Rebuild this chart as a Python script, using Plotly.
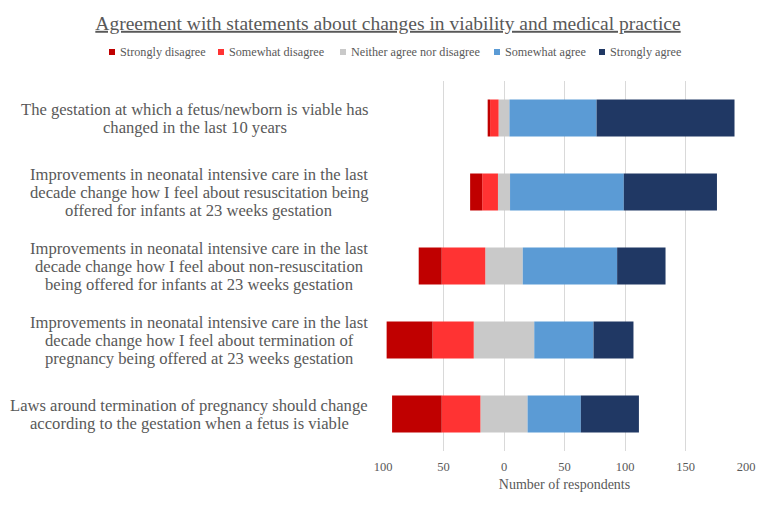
import plotly.graph_objects as go

statements = [
    "The gestation at which a fetus/newborn is viable has<br>changed in the last 10 years",
    "Improvements in neonatal intensive care in the last<br>decade change how I feel about resuscitation being<br>offered for infants at 23 weeks gestation",
    "Improvements in neonatal intensive care in the last<br>decade change how I feel about non-resuscitation<br>being offered for infants at 23 weeks gestation",
    "Improvements in neonatal intensive care in the last<br>decade change how I feel about termination of<br>pregnancy being offered at 23 weeks gestation",
    "Laws around termination of pregnancy should change<br>according to the gestation when a fetus is viable",
]
cat_ids = ["S1", "S2", "S3", "S4", "S5"]

strongly_disagree = [2, 10, 19, 38, 41]
somewhat_disagree = [7, 13, 36, 34, 32]
neither = [9, 10, 31, 50, 39]
somewhat_agree = [72, 94, 78, 49, 44]
strongly_agree = [114, 77, 40, 33, 48]

series_names = ["Strongly disagree", "Somewhat disagree", "Neither agree nor disagree",
                "Somewhat agree", "Strongly agree"]
series_colors = ["#C00000", "#FF3333", "#C9C9C9", "#5B9BD5", "#203864"]

tick_vals = [-100, -50, 0, 50, 100, 150, 200]
tick_text = ["100", "50", "0", "50", "100", "150", "200"]

FONT = "Liberation Serif, Times New Roman, serif"
GREY = "#595959"

# the page body adds an 8px offset; work in screen pixels and subtract it
OFF = 8
W, H = 772 - OFF, 511 - OFF
ML, MR, MT, MB = 375, 26, 73, 60
PW, PH = W - ML - MR, H - MT - MB


def paper_x(sx):
    return (sx - OFF - ML) / PW


def paper_y(sy):
    return (H - MB - (sy - OFF)) / PH


fig = go.Figure()

half_n = [v / 2 for v in neither]
C_SD, C_SWD, C_N, C_SWA, C_SA = series_colors

fig.add_trace(go.Bar(y=cat_ids, x=[-v for v in half_n], orientation="h",
                     marker_color=C_N, name=series_names[2]))
fig.add_trace(go.Bar(y=cat_ids, x=[-v for v in somewhat_disagree], orientation="h",
                     marker_color=C_SWD, name=series_names[1]))
fig.add_trace(go.Bar(y=cat_ids, x=[-v for v in strongly_disagree], orientation="h",
                     marker_color=C_SD, name=series_names[0]))
fig.add_trace(go.Bar(y=cat_ids, x=half_n, orientation="h",
                     marker_color=C_N, name=series_names[2]))
fig.add_trace(go.Bar(y=cat_ids, x=somewhat_agree, orientation="h",
                     marker_color=C_SWA, name=series_names[3]))
fig.add_trace(go.Bar(y=cat_ids, x=strongly_agree, orientation="h",
                     marker_color=C_SA, name=series_names[4]))

fig.update_traces(marker_line_width=0, showlegend=False)

# category labels: each line centred inside its block, tight line spacing
label_centers = [194.7, 199, 199, 199, 189]
LINE = 18
for cid, txt, cx in zip(cat_ids, statements, label_centers):
    lines = txt.split("<br>")
    n = len(lines)
    for i, ln in enumerate(lines):
        fig.add_annotation(x=paper_x(cx), xref="paper", y=cid, yref="y", text=ln,
                           showarrow=False, xanchor="center", yanchor="middle",
                           yshift=((n - 1) / 2 - i) * LINE,
                           font=dict(family=FONT, size=16.6, color=GREY))

# custom legend row
legend_px = [109, 218, 340, 494, 599]
legend_y = 52
for name, col, px in zip(series_names, series_colors, legend_px):
    fig.add_shape(type="rect", xref="paper", yref="paper",
                  xsizemode="pixel", ysizemode="pixel",
                  xanchor=paper_x(px), yanchor=paper_y(legend_y),
                  x0=0, x1=6, y0=-3, y1=3,
                  fillcolor=col, line_width=0)
    fig.add_annotation(x=paper_x(px + 8.5), xref="paper", y=paper_y(legend_y), yref="paper",
                       text=name, showarrow=False, xanchor="left", yanchor="middle",
                       font=dict(family=FONT, size=12.2, color=GREY))

fig.update_layout(
    width=W, height=H,
    barmode="relative", bargap=0.5,
    plot_bgcolor="white", paper_bgcolor="white",
    showlegend=False,
    margin=dict(l=ML, r=MR, t=MT, b=MB, autoexpand=False),
    font=dict(family=FONT, color=GREY),
    title=dict(text="<u>Agreement with statements about changes in viability and medical practice</u>",
               x=(388 - OFF) / W, xref="container", xanchor="center",
               y=1 - (23 - OFF) / H, yref="container", yanchor="middle",
               font=dict(family=FONT, size=19.5, color=GREY)),
    xaxis=dict(range=[-100, 200], tickvals=tick_vals, ticktext=tick_text,
               showgrid=True, gridcolor="#D9D9D9", gridwidth=1, zeroline=False,
               tickfont=dict(family=FONT, size=12.5, color=GREY),
               ticklabelstandoff=6,
               title=dict(text="Number of respondents", standoff=6,
                          font=dict(family=FONT, size=14, color=GREY)),
               fixedrange=True),
    yaxis=dict(categoryorder="array", categoryarray=cat_ids, autorange="reversed",
               showticklabels=False, showgrid=False, showline=False,
               zeroline=False, fixedrange=True),
)

fig.write_html("out.html")
